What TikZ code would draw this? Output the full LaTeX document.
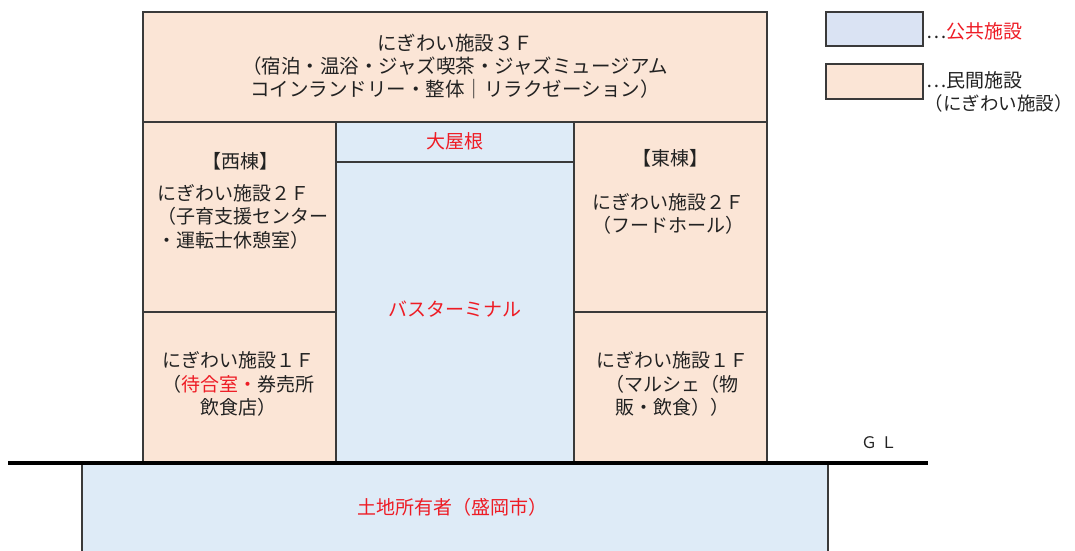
\documentclass[tikz,border=0pt]{standalone}
\usepackage{fontspec}
\setmainfont{Noto Sans CJK JP}
\definecolor{peach}{HTML}{FBE5D6}
\definecolor{pub}{HTML}{DEEBF7}
\definecolor{legpub}{HTML}{DAE3F3}
\definecolor{jred}{HTML}{EE1C25}
\definecolor{edge}{HTML}{3A3A3A}
\definecolor{ink}{HTML}{222222}
\tikzset{
  txt/.style={font=\fontsize{19}{23.5}\selectfont, align=center, inner sep=0pt, text=ink},
  redtxt/.style={txt, text=jred},
  frame/.style={draw=edge, line width=1.2pt},
}
\begin{document}
\begin{tikzpicture}[x=1pt,y=-1pt]
\useasboundingbox (0,0) rectangle (1075,550);
\fill[white] (0,0) rectangle (1075,550);
% building blocks
\path[frame, fill=peach] (143,12) rectangle (767,122);
\path[frame, fill=peach] (143,122) rectangle (336,312);
\path[frame, fill=peach] (143,312) rectangle (336,462);
\path[frame, fill=pub] (336,122) rectangle (574,162);
\path[frame, fill=pub] (336,162) rectangle (574,462);
\path[frame, fill=peach] (574,122) rectangle (767,312);
\path[frame, fill=peach] (574,312) rectangle (767,462);
% underground
\path[frame, fill=pub] (82,463) rectangle (828,552);
% ground line
\draw[line width=4pt, black] (8,462.5) -- (928,462.5);
% legend
\path[frame, fill=legpub] (826,12) rectangle (923,46);
\path[frame, fill=peach] (826,64) rectangle (923,99);

% texts
\node[txt, font=\fontsize{19.5}{23}\selectfont] (f3) at (455,66) {にぎわい施設３Ｆ\\（宿泊・温浴・ジャズ喫茶・ジャズミュージアム\\コインランドリー・整体｜リラクゼーション）};
\node[redtxt] (roof) at (455,141) {大屋根};
\node[redtxt] (bus) at (455,309) {バスターミナル};
\node[txt] (wname) at (240,161) {【西棟】};
\node[txt, align=left, anchor=west] (w2) at (157,216.5) {にぎわい施設２Ｆ\\（子育支援センター\\・運転士休憩室）};
\node[txt] (ename) at (670,158) {【東棟】};
\node[txt] (e2) at (668,214) {にぎわい施設２Ｆ\\（フードホール）};
\node[txt] (w1) at (238,384) {にぎわい施設１Ｆ\\（\textcolor{jred}{待合室・}券売所\\飲食店）};
\node[txt] (e1) at (672,384) {にぎわい施設１Ｆ\\（マルシェ（物\\販・飲食））};
\node[txt, font=\fontsize{16}{18}\selectfont] (gl) at (879,443) {Ｇ Ｌ};
\node[redtxt] (land) at (452,507) {土地所有者（盛岡市）};
\node[txt, anchor=west] (leg1) at (926,31) {…\textcolor{jred}{公共施設}};
\node[txt, anchor=west] (leg2) at (926,80) {…民間施設};
\node[txt, anchor=east, font=\fontsize{18.5}{22}\selectfont] (leg3) at (1073,103.5) {（にぎわい施設）};
\end{tikzpicture}
\end{document}
